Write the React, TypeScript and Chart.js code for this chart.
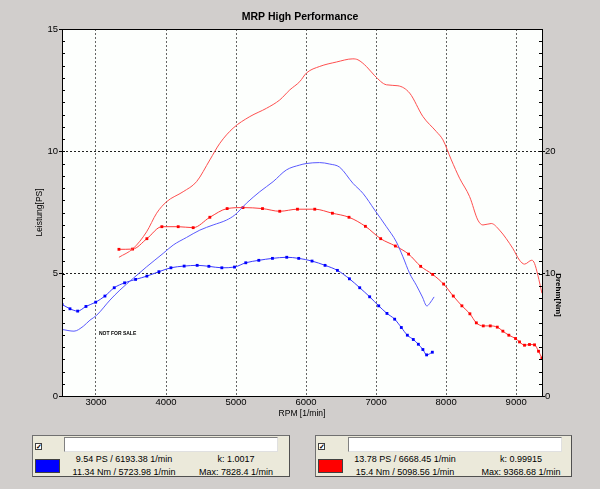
import React, { useEffect, useRef } from "react";
import { Chart, registerables } from "chart.js";
Chart.register(...registerables);

const rpmMin = 2515;
const rpmMax = 9368.68;
const xTicks = [3000, 4000, 5000, 6000, 7000, 8000, 9000];
const psTicks = [0, 5, 10, 15];
const nmTicks = [0, 10, 20];

// Blue run: power [PS]
const blueRpmPs = [2515, 2686, 2819, 2914, 3010, 3200, 3342, 3532, 3723, 3960, 4103, 4293, 4483, 4673, 4864, 4983, 5149, 5339, 5529, 5719, 5910, 6000, 6193, 6338, 6480, 6670, 6813, 6980, 7147, 7289, 7383, 7479, 7574, 7660, 7725, 7764, 7828];
const bluePs = [2.72, 2.65, 2.85, 3.1, 3.3, 3.92, 4.33, 4.81, 5.28, 5.83, 6.17, 6.48, 6.78, 6.99, 7.19, 7.4, 7.88, 8.35, 8.76, 9.24, 9.44, 9.5, 9.54, 9.48, 9.35, 8.69, 8.28, 7.6, 6.92, 6.3, 5.69, 5.01, 4.53, 4.05, 3.68, 3.78, 4.05];

// Blue run: torque [Nm]
const blueRpmNm = [2515, 2629, 2739, 2857, 2996, 3128, 3261, 3409, 3566, 3727, 3899, 4070, 4259, 4445, 4612, 4797, 4978, 5139, 5325, 5520, 5724, 5895, 6085, 6271, 6447, 6619, 6766, 6908, 7037, 7155, 7265, 7360, 7446, 7531, 7603, 7668, 7721, 7803];
const blueNm = [7.49, 7.13, 6.94, 7.32, 7.67, 8.17, 8.85, 9.25, 9.53, 9.8, 10.16, 10.48, 10.62, 10.68, 10.6, 10.48, 10.54, 10.89, 11.09, 11.25, 11.34, 11.25, 11.03, 10.68, 10.27, 9.58, 8.85, 8.11, 7.37, 6.75, 6.28, 5.6, 4.97, 4.62, 4.23, 3.8, 3.36, 3.58];

// Red run: power [PS]
const redRpmPs = [3328, 3532, 3723, 3866, 4008, 4245, 4436, 4626, 4769, 4959, 5197, 5435, 5624, 5767, 5910, 6005, 6195, 6433, 6668, 6741, 6861, 6980, 7147, 7312, 7479, 7669, 7859, 7954, 8074, 8192, 8335, 8453, 8525, 8644, 8762, 8952, 9048, 9119, 9223, 9262, 9309, 9368];
const redPs = [5.67, 6.03, 6.71, 7.47, 7.94, 8.35, 8.76, 9.65, 10.33, 10.95, 11.42, 11.76, 12.1, 12.51, 12.85, 13.2, 13.47, 13.65, 13.78, 13.74, 13.47, 13.09, 12.72, 12.68, 12.38, 11.42, 10.81, 10.47, 9.65, 8.9, 8.15, 7.19, 6.99, 7.05, 6.78, 6.03, 5.55, 5.39, 5.55, 5.42, 4.94, 4.2];

// Red run: torque [Nm]
const redRpmNm = [3328, 3523, 3727, 3941, 4174, 4388, 4626, 4873, 5099, 5378, 5624, 5877, 6124, 6376, 6613, 6847, 7065, 7275, 7464, 7636, 7807, 7964, 8102, 8225, 8339, 8431, 8530, 8630, 8730, 8810, 8895, 8991, 9048, 9119, 9190, 9262, 9319, 9368];
const redNm = [11.99, 12.01, 12.86, 13.84, 13.84, 13.76, 14.61, 15.32, 15.4, 15.32, 15.1, 15.27, 15.27, 14.94, 14.61, 13.87, 12.86, 12.26, 11.6, 10.6, 9.94, 9.15, 8.17, 7.37, 6.72, 5.98, 5.73, 5.73, 5.63, 5.3, 4.97, 4.7, 4.42, 4.15, 4.21, 4.18, 3.66, 3.1];

const NARROW = '"Liberation Sans Narrow", "Liberation Sans", Arial, sans-serif';
const SANS = '"Liberation Sans", Arial, sans-serif';

const toPts = (xs: number[], ys: number[]) => xs.map((x, i) => ({ x, y: ys[i] }));

const framePlugin = {
  id: "frame",
  beforeDraw(chart: any) {
    const { ctx, chartArea: a } = chart;
    ctx.save();
    ctx.fillStyle = "#fdfffd";
    ctx.fillRect(a.left, a.top, a.right - a.left, a.bottom - a.top);
    ctx.restore();
  },
  afterDraw(chart: any) {
    const { ctx, chartArea: a, scales } = chart;
    ctx.save();
    ctx.strokeStyle = "#000";
    ctx.lineWidth = 1;
    ctx.strokeRect(a.left + 0.5, a.top + 0.5, a.right - a.left, a.bottom - a.top);
    const ys = scales.y;
    for (let i = 0; i <= 30; i++) {
      const p = Math.round(ys.getPixelForValue(i * 0.5)) + 0.5;
      ctx.beginPath();
      ctx.moveTo(a.left, p);
      ctx.lineTo(a.left + 3, p);
      ctx.moveTo(a.right - 3, p);
      ctx.lineTo(a.right, p);
      ctx.stroke();
    }
    ctx.fillStyle = "#000";
    ctx.font = "bold 5px " + SANS;
    ctx.textAlign = "left";
    ctx.textBaseline = "middle";
    ctx.fillText("NOT FOR SALE", 99, 334);
    ctx.translate(558, 295);
    ctx.rotate(Math.PI / 2);
    ctx.font = "bold 8px " + SANS;
    ctx.textAlign = "center";
    ctx.fillText("Drehm[Nm]", 0, 0);
    ctx.restore();
  },
};

function ChartCanvas() {
  const ref = useRef<HTMLCanvasElement>(null);
  useEffect(() => {
    if (!ref.current) return;
    const tickFont = { family: NARROW, size: 9.5 };
    const chart = new Chart(ref.current, {
      type: "line",
      data: {
        datasets: [
          {
            label: "Leistung blau",
            data: toPts(blueRpmPs, bluePs),
            yAxisID: "y",
            borderColor: "#5a5aff",
            borderWidth: 1,
            pointRadius: 0,
            cubicInterpolationMode: "monotone",
          },
          {
            label: "Drehmoment blau",
            data: toPts(blueRpmNm, blueNm),
            yAxisID: "y2",
            borderColor: "#3c3cff",
            borderWidth: 1,
            pointRadius: 2,
            pointStyle: "rect",
            pointBackgroundColor: "#0000ff",
            pointBorderWidth: 0,
            cubicInterpolationMode: "monotone",
          },
          {
            label: "Leistung rot",
            data: toPts(redRpmPs, redPs),
            yAxisID: "y",
            borderColor: "#ff5050",
            borderWidth: 1,
            pointRadius: 0,
            cubicInterpolationMode: "monotone",
          },
          {
            label: "Drehmoment rot",
            data: toPts(redRpmNm, redNm),
            yAxisID: "y2",
            borderColor: "#ff3c3c",
            borderWidth: 1,
            pointRadius: 2,
            pointStyle: "rect",
            pointBackgroundColor: "#ff0000",
            pointBorderWidth: 0,
            cubicInterpolationMode: "monotone",
          },
        ],
      },
      options: {
        responsive: false,
        animation: false,
        events: [],
        layout: { padding: 0 },
        plugins: {
          legend: { display: false },
          tooltip: { enabled: false },
          title: {
            display: true,
            text: "MRP High Performance",
            color: "#000",
            font: { family: SANS, size: 10.5, weight: "bold", lineHeight: 1 },
            padding: { top: 12, bottom: 6.5 },
          },
        },
        scales: {
          x: {
            type: "linear",
            min: rpmMin,
            max: rpmMax,
            afterBuildTicks: (s: any) => {
              s.ticks = xTicks.map((v) => ({ value: v }));
            },
            ticks: {
              font: tickFont,
              color: "#000",
              padding: 1,
              maxRotation: 0,
              autoSkip: false,
              callback: (v: any) => String(v),
            },
            grid: { color: "#666", drawTicks: false },
            border: { display: false, dash: [2, 2] },
            title: {
              display: true,
              text: "RPM [1/min]",
              color: "#000",
              font: { family: SANS, size: 8.5 },
              padding: { top: 0, bottom: 6 },
            },
            afterFit: (s: any) => {
              s.height = 29;
            },
          },
          y: {
            position: "left",
            min: 0,
            max: 15,
            afterBuildTicks: (s: any) => {
              s.ticks = psTicks.map((v) => ({ value: v }));
            },
            ticks: { font: tickFont, color: "#000", padding: 1, callback: (v: any) => String(v) },
            grid: { color: "#222", tickColor: "#000", tickLength: 3 },
            border: { display: false, dash: [2, 2] },
            title: {
              display: true,
              text: "Leistung[PS]",
              color: "#000",
              font: { family: SANS, size: 8.5 },
              padding: { top: 35, bottom: 0 },
            },
            afterFit: (s: any) => {
              s.width = 62;
            },
          },
          y2: {
            position: "right",
            min: 0,
            max: 30,
            afterBuildTicks: (s: any) => {
              s.ticks = nmTicks.map((v) => ({ value: v }));
            },
            ticks: { font: tickFont, color: "#000", padding: 0, callback: (v: any) => String(v) },
            grid: { drawOnChartArea: false, tickColor: "#000", tickLength: 3 },
            border: { display: false },
            afterFit: (s: any) => {
              s.width = 58;
            },
          },
        },
      } as any,
      plugins: [framePlugin],
    });
    return () => chart.destroy();
  }, []);
  return <canvas ref={ref} width={600} height={425} style={{ position: "absolute", left: 0, top: 0 }} />;
}

const panelFont: React.CSSProperties = { fontFamily: NARROW, fontSize: 9, color: "#000", lineHeight: 1 };

function Txt({ x, y, children }: { x: number; y: number; children: React.ReactNode }) {
  return (
    <div style={{ position: "absolute", left: x, top: y, transform: "translate(-50%, -50%)", whiteSpace: "nowrap", ...panelFont }}>
      {children}
    </div>
  );
}

function Panel(props: { left: number; width: number; inputLeft: number; color: string; c1: number; c2: number; l1: string; l2: string; r1: string; r2: string }) {
  const { left, width, inputLeft, color, c1, c2, l1, l2, r1, r2 } = props;
  return (
    <div
      style={{
        position: "absolute",
        left,
        top: 435,
        width,
        height: 42,
        boxSizing: "border-box",
        background: "#ebe9da",
        borderTop: "1px solid #707070",
        borderLeft: "1px solid #707070",
        borderRight: "1px solid #505050",
        borderBottom: "1px solid #505050",
      }}
    >
      <div
        style={{
          position: "absolute",
          left: 2,
          top: 7,
          width: 7,
          height: 7,
          boxSizing: "border-box",
          border: "1px solid #404040",
          background: "#fff",
          fontSize: 7,
          lineHeight: "5px",
          textAlign: "center",
          fontFamily: SANS,
          fontWeight: "bold",
          color: "#000",
        }}
      >
        ✓
      </div>
      <div
        style={{
          position: "absolute",
          left: inputLeft,
          top: 1,
          width: 214,
          height: 15,
          boxSizing: "border-box",
          background: "#fff",
          borderTop: "1px solid #808080",
          borderLeft: "1px solid #808080",
          borderRight: "1px solid #e0e0e0",
          borderBottom: "1px solid #e0e0e0",
        }}
      />
      <div
        style={{
          position: "absolute",
          left: 2,
          top: 23,
          width: 25,
          height: 14,
          boxSizing: "border-box",
          background: color,
          border: "1px solid #404040",
        }}
      />
      <Txt x={c1} y={23}>{l1}</Txt>
      <Txt x={c1} y={35.5}>{l2}</Txt>
      <Txt x={c2} y={23}>{r1}</Txt>
      <Txt x={c2} y={35.5}>{r2}</Txt>
    </div>
  );
}

export default function App() {
  return (
    <div style={{ position: "fixed", left: 0, top: 0, width: 600, height: 489, background: "#d1cecc", overflow: "hidden" }}>
      <ChartCanvas />
      <Panel left={32} width={258} inputLeft={31} color="#0000ff" c1={91} c2={203} l1="9.54 PS / 6193.38 1/min" l2="11.34 Nm / 5723.98 1/min" r1="k: 1.0017" r2="Max: 7828.4 1/min" />
      <Panel left={315} width={257} inputLeft={32} color="#ff0000" c1={89} c2={205} l1="13.78 PS / 6668.45 1/min" l2="15.4 Nm / 5098.56 1/min" r1="k: 0.99915" r2="Max: 9368.68 1/min" />
    </div>
  );
}
